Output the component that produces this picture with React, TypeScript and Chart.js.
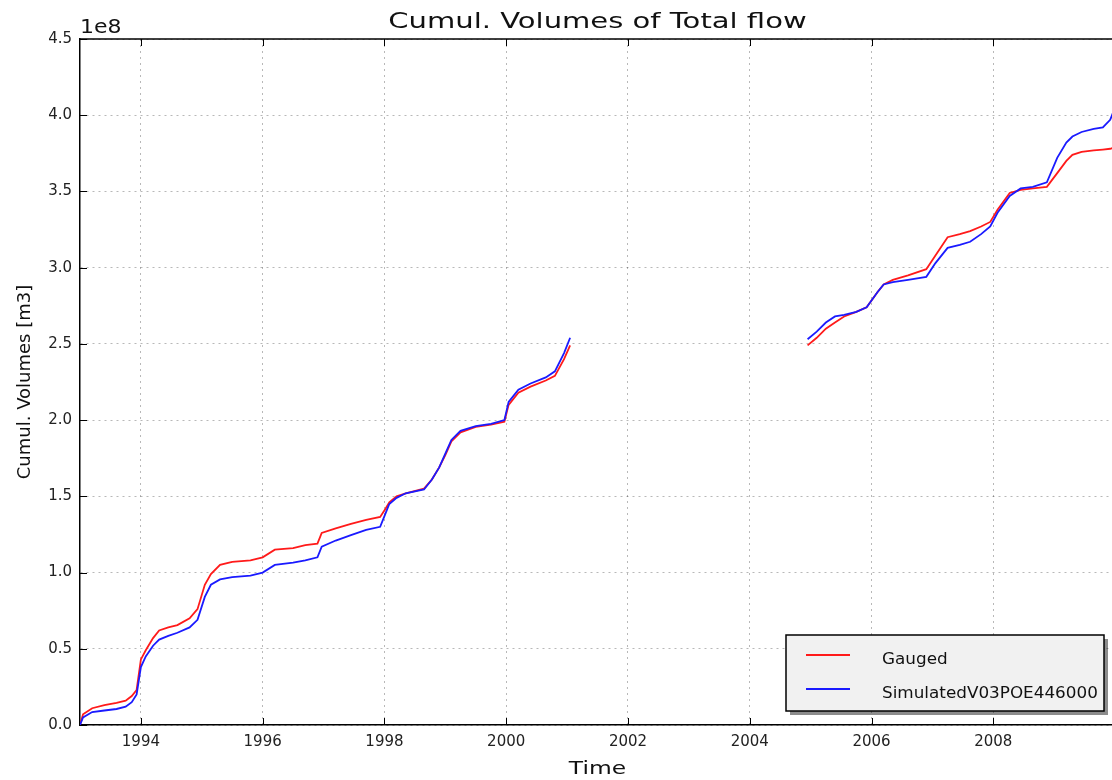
import React, { useEffect, useRef } from "react";
import { Chart, registerables } from "chart.js";

Chart.register(...registerables);

// ---- data (years as decimal, volumes in units of 1e8 m3) ----
const dates = [
  1993.0, 1993.05, 1993.2, 1993.4, 1993.6, 1993.75, 1993.85, 1993.93, 1994.0, 1994.08,
  1994.2, 1994.3, 1994.45, 1994.6, 1994.8, 1994.93, 1995.05, 1995.15, 1995.3, 1995.5,
  1995.8, 1996.0, 1996.2, 1996.5, 1996.7, 1996.9, 1996.97, 1997.2, 1997.45, 1997.7,
  1997.93, 1998.02, 1998.08, 1998.2, 1998.35, 1998.65, 1998.78, 1998.9, 1999.0, 1999.1,
  1999.25, 1999.5, 1999.75, 1999.97, 2000.04, 2000.2, 2000.4, 2000.65, 2000.8, 2000.95,
  2001.05,
  2003.0,
  2004.95, 2005.1, 2005.25, 2005.4, 2005.55, 2005.75, 2005.92, 2006.1, 2006.2, 2006.35,
  2006.6, 2006.9, 2007.05, 2007.25, 2007.45, 2007.62, 2007.8, 2007.95, 2008.07, 2008.27,
  2008.45, 2008.65, 2008.88, 2009.05, 2009.2, 2009.3, 2009.45, 2009.65, 2009.8, 2009.92,
  2010.0,
];

const gauged = [
  0.0, 0.07, 0.11, 0.13, 0.145, 0.16, 0.19, 0.23, 0.43, 0.49,
  0.57, 0.62, 0.64, 0.655, 0.7, 0.76, 0.92, 0.99, 1.05, 1.07,
  1.08, 1.1, 1.15, 1.16, 1.18, 1.19, 1.26, 1.29, 1.32, 1.345,
  1.365, 1.42, 1.46, 1.5, 1.52, 1.55, 1.61, 1.69, 1.77, 1.86,
  1.92, 1.955, 1.97, 1.99, 2.1, 2.18, 2.22, 2.26, 2.29, 2.4,
  2.49,
  null,
  2.49, 2.54, 2.6, 2.64, 2.68, 2.71, 2.74, 2.84, 2.89, 2.92,
  2.95, 2.99, 3.08, 3.2, 3.22, 3.24, 3.27, 3.3, 3.38, 3.49,
  3.51, 3.52, 3.53, 3.62, 3.7, 3.74, 3.76, 3.77, 3.775, 3.78,
  3.79,
];

const simulated = [
  0.0, 0.05, 0.085, 0.095, 0.105, 0.12, 0.15, 0.2, 0.38, 0.45,
  0.52, 0.56, 0.585, 0.605, 0.64, 0.69, 0.84, 0.92, 0.955, 0.97,
  0.98, 1.0, 1.05, 1.065, 1.08, 1.1, 1.17, 1.21, 1.245, 1.28,
  1.3, 1.39, 1.45, 1.49, 1.52, 1.545, 1.61, 1.69, 1.78, 1.87,
  1.93, 1.96, 1.975, 2.0, 2.12, 2.2, 2.24, 2.28, 2.32, 2.44,
  2.54,
  null,
  2.53, 2.58, 2.64, 2.68, 2.69, 2.71, 2.74, 2.84, 2.89, 2.905,
  2.92, 2.94, 3.03, 3.13, 3.15, 3.17, 3.22, 3.27, 3.36, 3.47,
  3.52, 3.53, 3.56, 3.72, 3.82, 3.86, 3.89, 3.91, 3.92, 3.97,
  4.05,
];

const xTickYears = [1994, 1996, 1998, 2000, 2002, 2004, 2006, 2008];
const yTickValues = [0, 0.5, 1.0, 1.5, 2.0, 2.5, 3.0, 3.5, 4.0, 4.5];
const seriesNames = ["Gauged", "SimulatedV03POE446000"];
const seriesColors = ["#ff1a1a", "#1a1aff"];
const titleText = "Cumul. Volumes of Total flow";
const xTitleText = "Time";
const yTitleText = "Cumul. Volumes [m3]";
const exponentText = "1e8";

const FONT = "'DejaVu Sans', 'Liberation Sans', sans-serif";

function drawText(
  ctx: CanvasRenderingContext2D,
  text: string,
  x: number,
  y: number,
  size: number,
  align: CanvasTextAlign,
  baseline: CanvasTextBaseline,
  scaleX = 1,
  rotate = 0
) {
  ctx.save();
  ctx.translate(x, y);
  if (rotate) ctx.rotate(rotate);
  ctx.scale(scaleX, 1);
  ctx.font = `${size}px ${FONT}`;
  ctx.fillStyle = "#111";
  ctx.textAlign = align;
  ctx.textBaseline = baseline;
  ctx.fillText(text, 0, 0);
  ctx.restore();
}

const decorations = {
  id: "decorations",
  afterDraw(chart: any) {
    const { ctx, chartArea: a, scales } = chart;
    const xs = scales.x;
    const ys = scales.y;
    ctx.save();

    // top spine
    ctx.strokeStyle = "#000";
    ctx.lineWidth = 1.5;
    ctx.beginPath();
    ctx.moveTo(a.left, a.top);
    ctx.lineTo(a.right, a.top);
    ctx.stroke();

    // inward tick marks
    ctx.lineWidth = 1;
    const tl = 7;
    for (const v of xTickYears) {
      const px = Math.round(xs.getPixelForValue(v)) + 0.5;
      if (px > a.right) continue;
      ctx.beginPath();
      ctx.moveTo(px, a.bottom);
      ctx.lineTo(px, a.bottom - tl);
      ctx.moveTo(px, a.top);
      ctx.lineTo(px, a.top + tl);
      ctx.stroke();
    }
    for (const v of yTickValues) {
      const py = Math.round(ys.getPixelForValue(v)) + 0.5;
      ctx.beginPath();
      ctx.moveTo(a.left, py);
      ctx.lineTo(a.left + tl, py);
      ctx.stroke();
    }

    // texts
    const cx = (a.left + 1115) / 2;
    drawText(ctx, titleText, cx, 28, 22, "center", "alphabetic", 1.32);
    drawText(ctx, exponentText, a.left, 33, 20, "left", "alphabetic", 1.1);
    drawText(ctx, xTitleText, cx, 774, 18, "center", "alphabetic", 1.3);
    drawText(ctx, yTitleText, 25, (a.top + a.bottom) / 2, 18, "center", "middle", 1, -Math.PI / 2);

    // legend
    const lx = 786, ly = 635, lw = 318, lh = 76;
    ctx.fillStyle = "rgba(0,0,0,0.45)";
    ctx.fillRect(lx + 4, ly + 4, lw, lh);
    ctx.fillStyle = "#f1f1f1";
    ctx.fillRect(lx, ly, lw, lh);
    ctx.strokeStyle = "#000";
    ctx.lineWidth = 1.5;
    ctx.strokeRect(lx, ly, lw, lh);
    const rows = [655, 689];
    seriesNames.forEach((name, i) => {
      ctx.strokeStyle = seriesColors[i];
      ctx.lineWidth = 2;
      ctx.beginPath();
      ctx.moveTo(806, rows[i]);
      ctx.lineTo(850, rows[i]);
      ctx.stroke();
      drawText(ctx, name, 882, rows[i] + 5, 16, "left", "middle", 1.05);
    });

    ctx.restore();
  },
};

export default function App() {
  const canvasRef = useRef<HTMLCanvasElement | null>(null);

  useEffect(() => {
    document.body.style.margin = "0";
    const canvas = canvasRef.current;
    if (!canvas) return;
    const chart = new Chart(canvas, {
      type: "line",
      data: {
        datasets: [
          {
            label: seriesNames[0],
            data: dates.map((d, i) => ({ x: d, y: gauged[i] })),
            borderColor: seriesColors[0],
            backgroundColor: seriesColors[0],
            borderWidth: 1.8,
            pointRadius: 0,
            tension: 0,
            spanGaps: false,
            order: 2,
          },
          {
            label: seriesNames[1],
            data: dates.map((d, i) => ({ x: d, y: simulated[i] })),
            borderColor: seriesColors[1],
            backgroundColor: seriesColors[1],
            borderWidth: 1.8,
            pointRadius: 0,
            tension: 0,
            spanGaps: false,
            order: 1,
          },
        ],
      },
      options: {
        animation: false,
        responsive: false,
        devicePixelRatio: 1,
        layout: { padding: { top: 39, left: 0, right: 0, bottom: 0 } },
        plugins: {
          legend: { display: false },
          title: { display: false },
          tooltip: { enabled: false },
        },
        scales: {
          x: {
            type: "linear",
            min: 1993,
            max: 2009.95,
            afterFit: (s: any) => {
              s.height = 55;
            },
            afterBuildTicks: (s: any) => {
              s.ticks = xTickYears.map((v) => ({ value: v }));
            },
            ticks: {
              autoSkip: false,
              maxRotation: 0,
              padding: 8,
              color: "#222",
              font: { family: FONT, size: 15 },
              callback: (v: any) => String(v),
            },
            grid: {
              drawTicks: false,
              color: "rgba(0,0,0,0.28)",
              lineWidth: 1,
            },
            border: { display: true, color: "#000", width: 1.5, dash: [2, 4] },
          },
          y: {
            type: "linear",
            min: 0,
            max: 4.5,
            afterFit: (s: any) => {
              s.width = 80;
            },
            ticks: {
              stepSize: 0.5,
              padding: 8,
              color: "#222",
              font: { family: FONT, size: 15 },
              callback: (v: any) => Number(v).toFixed(1),
            },
            grid: {
              drawTicks: false,
              color: "rgba(0,0,0,0.28)",
              lineWidth: 1,
            },
            border: { display: true, color: "#000", width: 1.5, dash: [2, 4] },
          },
        },
      },
      plugins: [decorations],
    });
    return () => chart.destroy();
  }, []);

  return (
    <div style={{ width: 1112, height: 780 }}>
      <canvas ref={canvasRef} width={1112} height={780} style={{ display: "block" }} />
    </div>
  );
}
